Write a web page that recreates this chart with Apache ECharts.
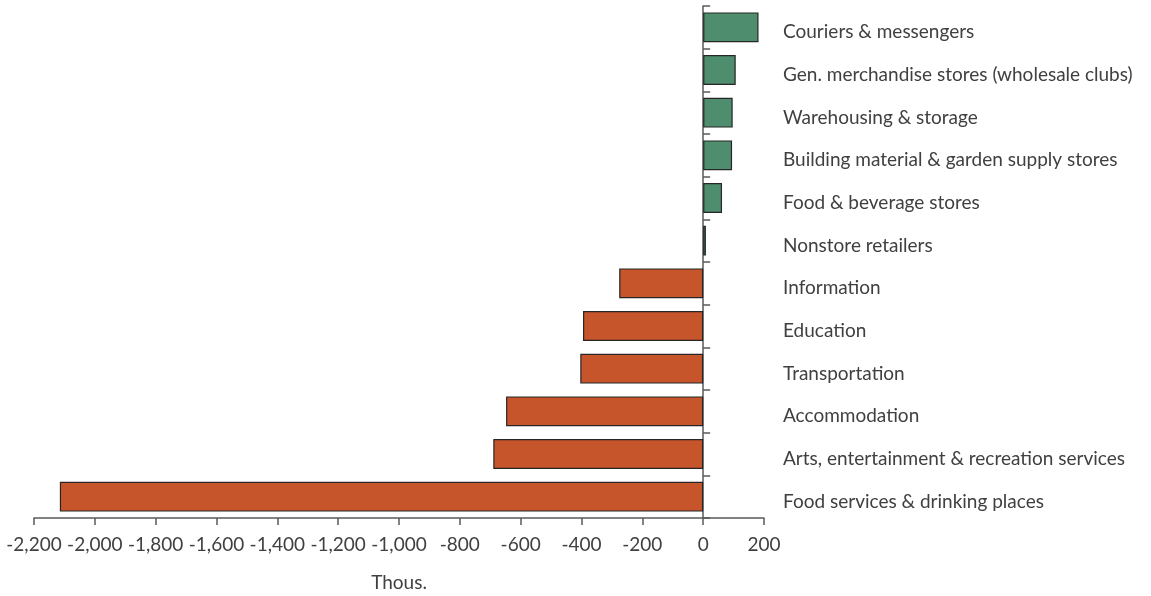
<!DOCTYPE html>
<html>
<head>
<meta charset="utf-8">
<script src="https://cdn.jsdelivr.net/npm/echarts@6/dist/echarts.min.js"></script>
<style>html,body{margin:0;padding:0;background:#fff;}#c{width:1151px;height:596px;}</style>
</head>
<body>
<div id="c"></div>
<script>
const categories = [
  "Couriers & messengers",
  "Gen. merchandise stores (wholesale clubs)",
  "Warehousing & storage",
  "Building material & garden supply stores",
  "Food & beverage stores",
  "Nonstore retailers",
  "Information",
  "Education",
  "Transportation",
  "Accommodation",
  "Arts, entertainment & recreation services",
  "Food services & drinking places"
];
const values = [182, 107, 97, 95, 62, 9, -276, -395, -404, -648, -690, -2115];
const axisName = "Thous.";
const xMin = -2200, xMax = 200, xStep = 200;

const GREEN = "#4E8E6F", ORANGE = "#C7552B";
const FONT = "Lato, sans-serif";
const TXT = "#404040";

const chart = echarts.init(document.getElementById('c'));
chart.setOption({
  animation: false,
  grid: { left: 34, right: 387, top: 6, bottom: 78, containLabel: false, outerBoundsMode: 'none' },
  xAxis: {
    type: 'value', min: xMin, max: xMax, interval: xStep,
    name: axisName, nameLocation: 'middle', nameGap: 55,
    nameTextStyle: { color: TXT, fontSize: 19, fontFamily: FONT },
    axisLine: { show: true, lineStyle: { color: '#595959', width: 1.5 } },
    axisTick: { show: true, length: 7, lineStyle: { color: '#595959', width: 1.5 } },
    splitLine: { show: false },
    axisLabel: { color: TXT, fontSize: 19, fontFamily: FONT, margin: 17,
      formatter: v => v.toLocaleString('en-US') }
  },
  yAxis: [
    {
      type: 'category', data: categories, inverse: true,
      axisLine: { show: true, onZero: true, lineStyle: { color: '#595959', width: 1.5 } },
      axisTick: { show: true, inside: true, length: 7, lineStyle: { color: '#595959', width: 1.5 } },
      axisLabel: { show: false }
    },
    {
      type: 'category', data: categories, inverse: true, position: 'right',
      axisLine: { show: false }, axisTick: { show: false },
      axisLabel: { show: true, color: TXT, fontSize: 19, fontFamily: FONT, margin: 19, align: 'left',
        verticalAlign: 'top', lineHeight: 10 }
    }
  ],
  series: [{
    type: 'bar', yAxisIndex: 0, barWidth: '70%',
    data: values.map(v => ({ value: v, itemStyle: { color: v >= 0 ? GREEN : ORANGE } })),
    itemStyle: { borderColor: '#262626', borderWidth: 1.2 }
  }]
});
</script>
</body>
</html>
